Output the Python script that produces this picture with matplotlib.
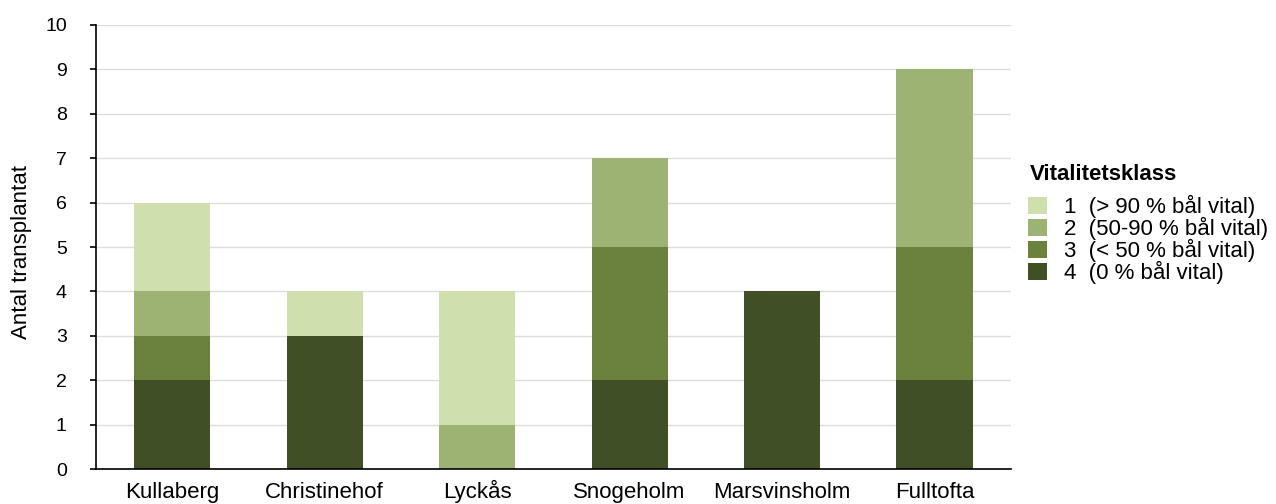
import matplotlib.pyplot as plt
import numpy as np

plt.rcParams["font.family"] = ["Liberation Sans", "DejaVu Sans"]

# ── Data ─────────────────────────────────────────────
sites = ["Kullaberg", "Christinehof", "Lyckås", "Snogeholm", "Marsvinsholm", "Fulltofta"]

# counts per vitality class (stacked bottom-up: 4, 3, 2, 1)
class4 = [2, 3, 0, 2, 4, 2]
class3 = [1, 0, 0, 3, 0, 3]
class2 = [1, 0, 1, 2, 0, 4]
class1 = [2, 1, 3, 0, 0, 0]

labels = ["1  (> 90 % bål vital)", "2  (50-90 % bål vital)",
          "3  (< 50 % bål vital)", "4  (0 % bål vital)"]
colors = ["#cfdfae", "#9db373", "#6b823f", "#414f27"]

FS = 16

# ── Plot ─────────────────────────────────────────────
fig = plt.figure(figsize=(12.76, 5.04), dpi=100)
ax = fig.add_axes([0.0752, 0.0694, 0.717, 0.881])

x = np.arange(len(sites))
w = 0.5
series = [class4, class3, class2, class1]
bottom = np.zeros(len(sites))
handles = {}
for vals, c, lab in zip(series, colors[::-1], labels[::-1]):
    b = ax.bar(x, vals, w, bottom=bottom, color=c, label=lab, zorder=2)
    handles[lab] = b
    bottom += np.array(vals)

ax.set_xlim(-0.5, len(sites) - 0.5)
ax.set_ylim(0, 10)
ax.set_yticks(range(0, 11))
ax.set_xticks(x)
ax.set_xticklabels(sites, fontsize=FS)
for lbl in ax.get_xticklabels():
    lbl.set_verticalalignment("baseline")
ax.tick_params(axis="x", length=0, pad=21)
ax.tick_params(axis="y", length=4, width=1.2, labelsize=14, pad=17, direction="out")
ax.grid(axis="y", color="#dcdcdc", linewidth=1, zorder=0)
for s in ["top", "right"]:
    ax.spines[s].set_visible(False)
ax.spines["left"].set_linewidth(1.2)
ax.spines["bottom"].set_linewidth(1.2)

fig.text(22 / 1276, 0.5, "Antal transplantat", rotation=90,
         ha="center", va="center", fontsize=FS)

# legend: title drawn separately so the gap above the entries can be set
fig.text(1030 / 1276, 1 - 174 / 504, "Vitalitetsklass", fontsize=FS,
         fontweight="bold", ha="left", va="center")
fig.legend([handles[l] for l in labels], labels,
           loc="upper left", bbox_to_anchor=(1028 / 1276, 1 - 195 / 504),
           frameon=False, fontsize=FS,
           handlelength=0.85, handleheight=0.85, handletextpad=0.75,
           labelspacing=-0.05, borderpad=0, borderaxespad=0)

fig.savefig("out.png", dpi=100)
